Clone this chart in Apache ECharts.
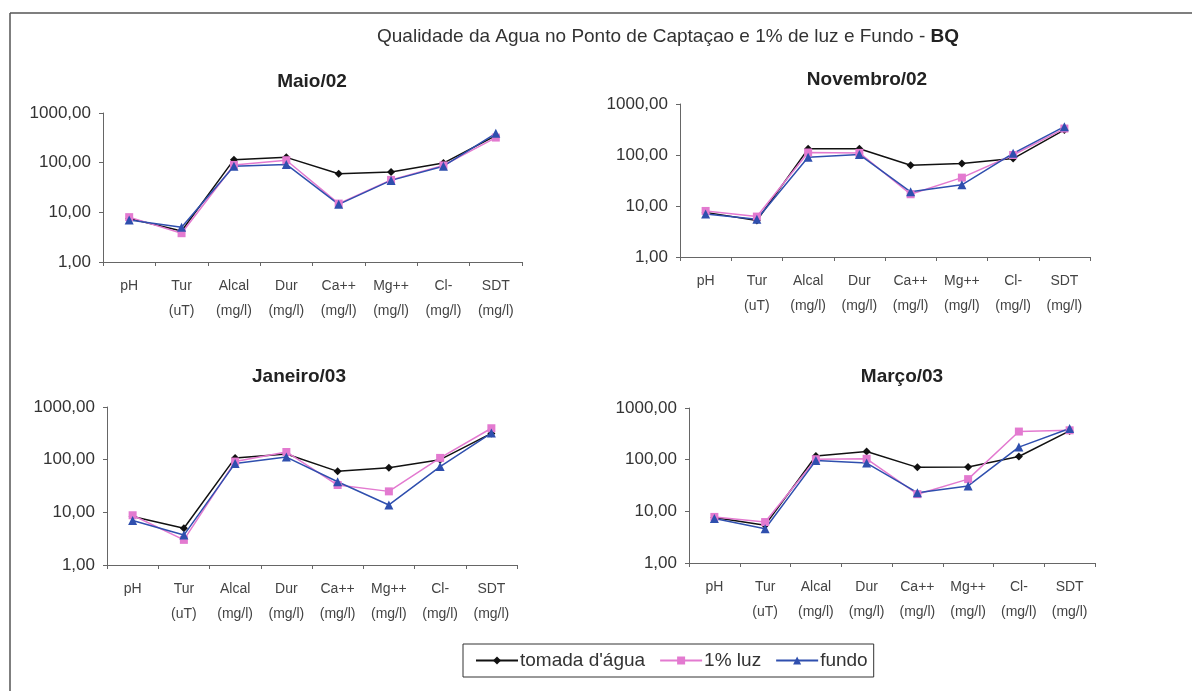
<!DOCTYPE html>
<html>
<head>
<meta charset="utf-8">
<script src="https://cdn.jsdelivr.net/npm/echarts@6/dist/echarts.min.js"></script>
<style>
  html, body { margin: 0; padding: 0; background: #fff; }
  #chart { width: 1192px; height: 691px; }
</style>
</head>
<body>
<div id="chart"></div>
<script>
// ---- Data ----
const categories = ['pH', 'Tur\n(uT)', 'Alcal\n(mg/l)', 'Dur\n(mg/l)', 'Ca++\n(mg/l)', 'Mg++\n(mg/l)', 'Cl-\n(mg/l)', 'SDT\n(mg/l)'];
const seriesNames = ["tomada d'água", '1% luz', 'fundo'];
const panelTitles = ['Maio/02', 'Novembro/02', 'Janeiro/03', 'Março/03'];
const yTicks = [1, 10, 100, 1000];

const maioTomada = [7.5, 4.2, 115, 128, 60, 65, 98, 350];
const maioLuz    = [8.0, 3.8, 90, 112, 15, 45, 88, 320];
const maioFundo  = [7.0, 5.0, 85, 92, 14.5, 44, 85, 390];

const novTomada = [7.5, 5.2, 132, 133, 63, 68, 85, 310];
const novLuz    = [8.0, 6.2, 112, 110, 17, 36, 100, 330];
const novFundo  = [7.0, 5.5, 90, 102, 19, 26, 108, 360];

const janTomada = [8.3, 5.0, 108, 128, 60, 70, 100, 315];
const janLuz    = [8.8, 3.0, 92, 140, 33, 25, 108, 395];
const janFundo  = [7.0, 3.7, 85, 112, 38, 13.8, 74, 320];

const marTomada = [7.6, 5.4, 118, 144, 71, 72, 115, 360];
const marLuz    = [7.8, 6.2, 102, 104, 21.5, 42, 350, 370];
const marFundo  = [7.3, 4.6, 96, 86, 23, 31, 175, 400];

const panelData = [
  [maioTomada, maioLuz, maioFundo],
  [novTomada, novLuz, novFundo],
  [janTomada, janLuz, janFundo],
  [marTomada, marLuz, marFundo]
];

// ---- Layout / style ----
const grids = [
  { left: 103, top: 113, width: 419, height: 149 },
  { left: 680, top: 104, width: 410, height: 153 },
  { left: 107, top: 407, width: 410, height: 158 },
  { left: 689, top: 408, width: 406, height: 155 }
];
const titlePos = [[312, 82], [867, 80], [299, 377], [902, 377]];
const colors = ['#111111', '#e37ad0', '#2f4fae'];
const symbols = ['diamond', 'rect', 'triangle'];
const symbolSizes = [8, 8, 9];
const FONT = 'Liberation Sans, Arial, sans-serif';

const xAxes = [], yAxes = [], series = [], graphics = [];
grids.forEach((g, i) => {
  xAxes.push({
    type: 'category', gridIndex: i, data: categories, boundaryGap: true,
    axisLine: { lineStyle: { color: '#666', width: 1 } },
    axisTick: { show: true, length: 4, lineStyle: { color: '#666' } },
    axisLabel: { color: '#444', fontSize: 14, fontFamily: FONT, lineHeight: 25, margin: 12, interval: 0 }
  });
  yAxes.push({
    type: 'log', logBase: 10, gridIndex: i, min: 1, max: 1000,
    axisLine: { show: true, lineStyle: { color: '#666', width: 1 } },
    axisTick: { show: true, length: 4, lineStyle: { color: '#666' } },
    splitLine: { show: false },
    axisLabel: {
      color: '#333', fontSize: 17, fontFamily: FONT, margin: 12,
      formatter: v => yTicks.includes(Math.round(v)) ? Number(v).toFixed(2).replace('.', ',') : ''
    }
  });
  panelData[i].forEach((vals, s) => {
    series.push({
      type: 'line', name: seriesNames[s], xAxisIndex: i, yAxisIndex: i,
      data: vals, symbol: symbols[s], symbolSize: symbolSizes[s],
      lineStyle: { color: colors[s], width: 1.5 },
      itemStyle: { color: colors[s] },
      emphasis: { disabled: true }, animation: false
    });
  });
  graphics.push({
    type: 'text', x: titlePos[i][0], y: titlePos[i][1],
    style: { text: panelTitles[i], font: 'bold 19px ' + FONT, fill: '#222', textAlign: 'center', textVerticalAlign: 'middle' }
  });
});

// frame lines
graphics.push({ type: 'line', shape: { x1: 10, y1: 13, x2: 1192, y2: 13 }, style: { stroke: '#555', lineWidth: 1.5 } });
graphics.push({ type: 'line', shape: { x1: 10, y1: 13, x2: 10, y2: 691 }, style: { stroke: '#555', lineWidth: 1.5 } });

const option = {
  backgroundColor: '#fff',
  animation: false,
  title: {
    text: '{a|Qualidade da Agua no Ponto de Captaçao e 1% de luz e Fundo - }{b|BQ}',
    left: 372, top: 22,
    textStyle: {
      rich: {
        a: { fontSize: 19, fontFamily: FONT, color: '#333', fontWeight: 'normal' },
        b: { fontSize: 19, fontFamily: FONT, color: '#222', fontWeight: 'bold' }
      }
    }
  },
  legend: {
    data: seriesNames,
    left: 463, top: 644,
    orient: 'horizontal',
    itemWidth: 42, itemHeight: 10, itemGap: 14,
    borderColor: '#333', borderWidth: 1, borderRadius: 0,
    padding: [7, 6, 7, 12],
    textStyle: { fontSize: 19, fontFamily: FONT, color: '#333', padding: [0, 0, 0, -3] }
  },
  grid: grids.map(g => Object.assign({ containLabel: false }, g)),
  xAxis: xAxes,
  yAxis: yAxes,
  series: series,
  graphic: graphics
};

const chart = echarts.init(document.getElementById('chart'));
chart.setOption(option);
</script>
</body>
</html>
